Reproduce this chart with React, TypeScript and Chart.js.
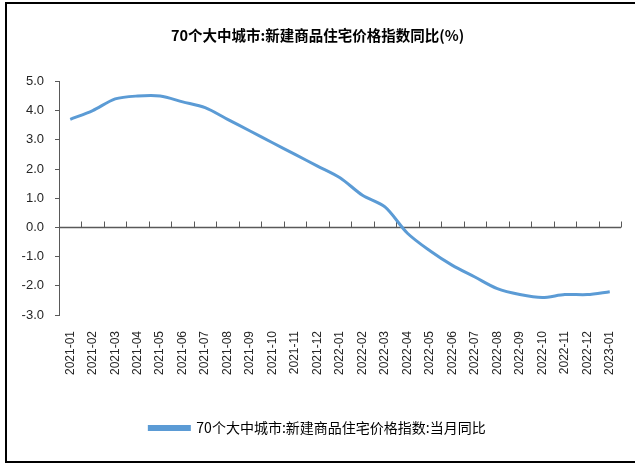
import React, { useEffect, useRef } from "react";
import { Chart, registerables } from "chart.js";

Chart.register(...registerables);

const chartTitle = "70个大中城市:新建商品住宅价格指数同比(%)";
const seriesLabel = "70个大中城市:新建商品住宅价格指数:当月同比";

const categories = [
  "2021-01", "2021-02", "2021-03", "2021-04", "2021-05", "2021-06",
  "2021-07", "2021-08", "2021-09", "2021-10", "2021-11", "2021-12",
  "2022-01", "2022-02", "2022-03", "2022-04", "2022-05", "2022-06",
  "2022-07", "2022-08", "2022-09", "2022-10", "2022-11", "2022-12",
  "2023-01",
];

const yoyValues = [
  3.7, 4.0, 4.4, 4.5, 4.5, 4.3,
  4.1, 3.7, 3.3, 2.9, 2.5, 2.1,
  1.7, 1.1, 0.7, -0.2, -0.8, -1.3,
  -1.7, -2.1, -2.3, -2.4, -2.3, -2.3,
  -2.2,
];

const yMin = -3;
const yMax = 5;
const yStep = 1;

const LINE_COLOR = "#5B9BD5";
const AXIS_COLOR = "#595959";
const TEXT_COLOR = "#262626";

const zeroAxisPlugin = {
  id: "zeroAxis",
  beforeDatasetsDraw(chart: any) {
    const { ctx, chartArea, scales } = chart;
    const x = scales.x;
    const y = scales.y;
    const y0 = Math.round(y.getPixelForValue(0)) + 0.5;
    ctx.save();
    ctx.strokeStyle = AXIS_COLOR;
    ctx.lineWidth = 1.5;
    ctx.beginPath();
    ctx.moveTo(chartArea.left, y0);
    ctx.lineTo(chartArea.right, y0);
    ctx.stroke();
    ctx.lineWidth = 1;
    for (let i = 0; i < categories.length; i++) {
      const bx =
        i < categories.length - 1
          ? (x.getPixelForValue(i) + x.getPixelForValue(i + 1)) / 2
          : chartArea.right;
      const px = Math.round(bx) + 0.5;
      ctx.beginPath();
      ctx.moveTo(px, y0);
      ctx.lineTo(px, y0 - 6);
      ctx.stroke();
    }
    ctx.restore();
  },
};

export default function App() {
  const canvasRef = useRef<HTMLCanvasElement | null>(null);

  useEffect(() => {
    if (!canvasRef.current) return;
    const chart = new Chart(canvasRef.current, {
      type: "line",
      data: {
        labels: categories,
        datasets: [
          {
            label: seriesLabel,
            data: yoyValues,
            borderColor: LINE_COLOR,
            backgroundColor: LINE_COLOR,
            borderWidth: 3,
            pointRadius: 0,
            pointHoverRadius: 0,
            tension: 0.3,
            fill: false,
          },
        ],
      },
      options: {
        responsive: false,
        animation: false,
        devicePixelRatio: 1,
        layout: { padding: { left: 14, right: 14, top: 0, bottom: 19 } },
        plugins: {
          title: {
            display: true,
            text: chartTitle,
            color: "#000",
            font: { family: "'Noto Sans CJK SC', sans-serif", size: 14.5, weight: "bold" },
            padding: { top: 27, bottom: 37 },
          },
          legend: {
            display: true,
            position: "bottom",
            labels: {
              boxWidth: 40,
              boxHeight: 3,
              color: "#000",
              font: { family: "'Noto Sans CJK SC', sans-serif", size: 14 },
              padding: 10,
            },
          },
          tooltip: { enabled: false },
        },
        scales: {
          x: {
            type: "category",
            offset: true,
            grid: { display: false },
            border: { display: false },
            ticks: {
              autoSkip: false,
              maxRotation: 90,
              minRotation: 90,
              padding: 8,
              color: TEXT_COLOR,
              font: { family: "'Liberation Sans', Arial, sans-serif", size: 12 },
            },
            afterFit: (scale: any) => {
              scale.height = 96;
            },
          },
          y: {
            min: yMin,
            max: yMax,
            grid: {
              drawOnChartArea: false,
              drawTicks: true,
              tickLength: 4,
              color: AXIS_COLOR,
            },
            border: { display: true, color: AXIS_COLOR, width: 1 },
            ticks: {
              stepSize: yStep,
              padding: 11,
              color: TEXT_COLOR,
              font: { family: "'Liberation Sans', Arial, sans-serif", size: 13 },
              callback: (v: any) => Number(v).toFixed(1),
            },
            afterFit: (scale: any) => {
              scale.width = 45;
            },
          },
        },
      },
      plugins: [zeroAxisPlugin],
    });
    return () => chart.destroy();
  }, []);

  return (
    <div>
      <canvas
        ref={canvasRef}
        width={635}
        height={464}
        style={{ position: "fixed", left: 0, top: 0, width: 635, height: 464 }}
      />
      <div
        style={{
          position: "fixed",
          left: 5,
          top: 2,
          width: 640,
          height: 461,
          border: "2px solid #000",
          boxSizing: "border-box",
          pointerEvents: "none",
        }}
      />
    </div>
  );
}
